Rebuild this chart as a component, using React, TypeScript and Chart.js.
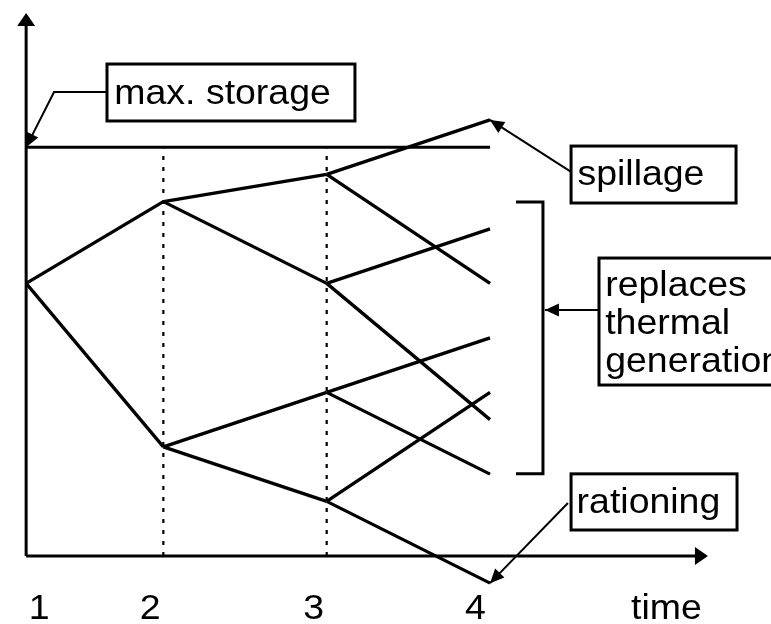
import React, { useEffect, useRef } from "react";
import { Chart, registerables } from "chart.js";

Chart.register(...registerables);

// ---- data ----
const stageLabels = ["1", "2", "3", "4"];
const stageTimes = [1.16, 2, 3, 4];
const stage1Storage = [10];
const stage2Storage = [13, 4];
const stage3Storage = [14, 10, 6, 2];
const stage4Storage = [16, 10, 12, 5, 8, 3, 6, -1];
const maxStorage = 15;
const tickLabels = ["1", "2", "3", "4", "time"];
const tickLabelTimes = [1.24, 1.92, 2.92, 3.91, 5.08];

const storageByStage = [stage1Storage, stage2Storage, stage3Storage, stage4Storage];

const FONT = "35px 'Liberation Sans', Arial, sans-serif";
const TEXT_STRETCH = 1.07;

function arrowHead(ctx: CanvasRenderingContext2D, fx: number, fy: number, tx: number, ty: number, len: number, width: number) {
  const a = Math.atan2(ty - fy, tx - fx);
  const bx = tx - len * Math.cos(a);
  const by = ty - len * Math.sin(a);
  const nx = -Math.sin(a) * width / 2;
  const ny = Math.cos(a) * width / 2;
  ctx.beginPath();
  ctx.moveTo(tx, ty);
  ctx.lineTo(bx + nx, by + ny);
  ctx.lineTo(bx - nx, by - ny);
  ctx.closePath();
  ctx.fill();
}

const diagramPlugin = {
  id: "diagram",
  afterDatasetsDraw(chart: any) {
    const ctx: CanvasRenderingContext2D = chart.ctx;
    const X = (v: number) => chart.scales.x.getPixelForValue(v);
    const Y = (v: number) => chart.scales.y.getPixelForValue(v);
    ctx.save();
    ctx.strokeStyle = "#000";
    ctx.fillStyle = "#000";
    ctx.lineCap = "butt";

    // axes
    const ox = X(stageTimes[0]);
    const oy = Y(0);
    ctx.lineWidth = 3;
    ctx.beginPath();
    ctx.moveTo(ox, oy);
    ctx.lineTo(ox, Y(19.92) + 10);
    ctx.moveTo(ox, oy);
    ctx.lineTo(X(5.334) - 10, oy);
    ctx.stroke();
    arrowHead(ctx, ox, oy, ox, Y(19.92), 13, 18);
    arrowHead(ctx, ox, oy, X(5.334), oy, 13, 18);

    // boxes
    const box = (x0: number, y0: number, x1: number, y1: number) => {
      const l = X(x0), t = Y(y0), r = X(x1), b = Y(y1);
      ctx.fillStyle = "#fff";
      ctx.fillRect(l, t, r - l, b - t);
      ctx.fillStyle = "#000";
      ctx.lineWidth = 3;
      ctx.strokeRect(l, t, r - l, b - t);
    };
    const text = (s: string, x: number, y: number, align: CanvasTextAlign = "left") => {
      ctx.save();
      ctx.font = FONT;
      ctx.textAlign = align;
      ctx.textBaseline = "alphabetic";
      ctx.fillStyle = "#000";
      ctx.translate(X(x), Y(y));
      ctx.scale(TEXT_STRETCH, 1);
      ctx.fillText(s, 0, 0);
      ctx.restore();
    };
    const leader = (pts: number[][]) => {
      ctx.lineWidth = 2;
      ctx.beginPath();
      pts.forEach((p, i) => (i === 0 ? ctx.moveTo(X(p[0]), Y(p[1])) : ctx.lineTo(X(p[0]), Y(p[1]))));
      ctx.stroke();
      const a = pts[pts.length - 2];
      const b = pts[pts.length - 1];
      arrowHead(ctx, X(a[0]), Y(a[1]), X(b[0]), Y(b[1]), 14, 13);
    };

    // max. storage
    box(1.655, 18.05, 3.173, 15.96);
    text("max. storage", 1.7, 16.58);
    leader([[1.655, 17.02], [1.331, 17.02], [stageTimes[0], maxStorage]]);

    // spillage
    box(4.496, 15.04, 5.506, 12.95);
    text("spillage", 4.535, 13.61);
    leader([[4.496, 14.09], [stageTimes[3], 16]]);

    // bracket
    ctx.lineWidth = 3;
    ctx.beginPath();
    ctx.moveTo(X(4.159), Y(12.99));
    ctx.lineTo(X(4.324), Y(12.99));
    ctx.lineTo(X(4.324), Y(3.01));
    ctx.lineTo(X(4.159), Y(3.01));
    ctx.stroke();

    // replaces thermal generation
    box(4.667, 10.93, 5.9, 6.27);
    text("replaces", 4.705, 9.54);
    text("thermal", 4.705, 8.14);
    text("generation", 4.705, 6.75);
    leader([[4.667, 9.02], [4.336, 9.02]]);

    // rationing
    box(4.496, 3.01, 5.512, 0.95);
    text("rationing", 4.53, 1.57);
    leader([[4.477, 1.94], [stageTimes[3], -1]]);

    // tick labels
    tickLabels.forEach((l, i) => text(l, tickLabelTimes[i], -2.32, "center"));

    ctx.restore();
  },
};

export default function App() {
  const ref = useRef<HTMLCanvasElement | null>(null);
  useEffect(() => {
    if (!ref.current) return;
    const datasets: any[] = [];
    // tree edges
    for (let s = 0; s < storageByStage.length - 1; s++) {
      const parents = storageByStage[s];
      const children = storageByStage[s + 1];
      children.forEach((c, j) => {
        datasets.push({
          label: `stage ${stageLabels[s]}-${stageLabels[s + 1]}`,
          data: [
            { x: stageTimes[s], y: parents[Math.floor(j / 2)] },
            { x: stageTimes[s + 1], y: c },
          ],
          borderColor: "#000",
          borderWidth: 3.3,
          pointRadius: 0,
          fill: false,
        });
      });
    }
    // max storage
    datasets.push({
      label: "max. storage",
      data: [
        { x: stageTimes[0], y: maxStorage },
        { x: stageTimes[3], y: maxStorage },
      ],
      borderColor: "#000",
      borderWidth: 3,
      pointRadius: 0,
    });
    // dotted stage separators
    [stageTimes[1], stageTimes[2]].forEach((t) => {
      datasets.push({
        label: "stage",
        data: [
          { x: t, y: 0 },
          { x: t, y: maxStorage - 0.05 },
        ],
        borderColor: "#000",
        borderWidth: 2.2,
        borderDash: [4, 7],
        pointRadius: 0,
      });
    });

    const chart = new Chart(ref.current, {
      type: "line",
      data: { datasets },
      options: {
        animation: false,
        responsive: false,
        devicePixelRatio: 1,
        layout: { padding: 0 },
        plugins: { legend: { display: false }, tooltip: { enabled: false }, title: { display: false } },
        events: [],
        scales: {
          x: { type: "linear", min: 1.0, max: 5.72, display: false },
          y: { type: "linear", min: -2.5, max: 20.4, display: false },
        },
        elements: { line: { tension: 0 } },
      } as any,
      plugins: [diagramPlugin],
    });
    return () => chart.destroy();
  }, []);
  return (
    <div style={{ position: "absolute", left: 0, top: 0, width: 771, height: 624, background: "#fff" }}>
      <canvas ref={ref} width={771} height={624} style={{ width: 771, height: 624 }} />
    </div>
  );
}
